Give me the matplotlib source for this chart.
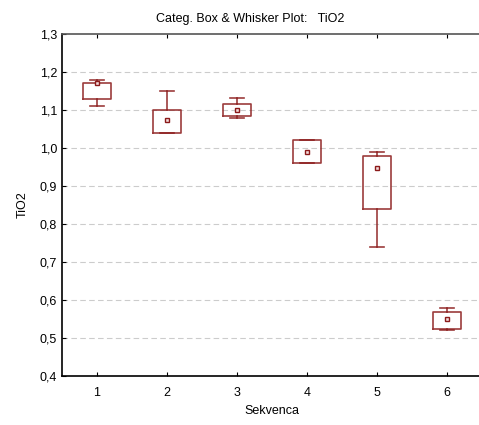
import matplotlib
matplotlib.use("Agg")
import matplotlib.pyplot as plt
from matplotlib.ticker import FuncFormatter

plt.rcParams['font.family'] = ['Liberation Sans', 'DejaVu Sans']

# Sekvenca categories and box statistics
categories = ['1', '2', '3', '4', '5', '6']
whisk_low = [1.11, 1.04, 1.08, 0.96, 0.74, 0.52]
box_low = [1.13, 1.04, 1.083, 0.96, 0.84, 0.524]
point = [1.172, 1.073, 1.10, 0.99, 0.947, 0.549]
box_high = [1.17, 1.10, 1.115, 1.02, 0.98, 0.569]
whisk_high = [1.18, 1.15, 1.131, 1.02, 0.99, 0.58]
y_ticks = [0.4, 0.5, 0.6, 0.7, 0.8, 0.9, 1.0, 1.1, 1.2, 1.3]

red = '#8b1a1a'

fig = plt.figure(figsize=(4.79, 4.25), dpi=100)
# right edge of the plot sits just past the picture, like the original
ax = fig.add_axes([62 / 479, 49 / 425, 420 / 479, 342 / 425])

stats = []
for i, c in enumerate(categories):
    stats.append({'label': c, 'whislo': whisk_low[i], 'q1': box_low[i], 'med': point[i],
                  'q3': box_high[i], 'whishi': whisk_high[i], 'mean': point[i], 'fliers': []})

pos = list(range(1, len(categories) + 1))
ax.bxp(stats, positions=pos, widths=0.41, capwidths=0.21, showmeans=True,
       boxprops=dict(color=red, linewidth=1.2, alpha=0.85),
       whiskerprops=dict(color=red, linewidth=1.2, alpha=0.85),
       capprops=dict(color=red, linewidth=1.2, alpha=0.85),
       medianprops=dict(linewidth=0),
       meanprops=dict(marker='s', markersize=3, markeredgecolor=red,
                      markerfacecolor='#f4dcdc', markeredgewidth=1))

ax.set_xlim(0.5, 6.5)
ax.set_ylim(0.4, 1.3)
ax.set_yticks(y_ticks)
ax.yaxis.set_major_formatter(FuncFormatter(lambda v, p: f"{v:.1f}".replace('.', ',')))
ax.set_xticks(pos)
ax.set_xticklabels(categories)

for v in y_ticks[1:-1]:
    ax.axhline(v, color='#cccccc', linewidth=0.8, linestyle=(0, (5, 3)), zorder=0)

ax.tick_params(direction='in', length=3, labelsize=9, top=True, width=0.8)
ax.tick_params(axis='x', pad=8)
ax.spines['right'].set_visible(False)
for s in ['left', 'bottom', 'top']:
    ax.spines[s].set_linewidth(1.2)
ax.spines['top'].set_color('#555555')

ax.set_xlabel('Sekvenca', fontsize=9, labelpad=4)
ax.set_ylabel('TiO2', fontsize=9, labelpad=8)
fig.text(250 / 479, 1 - 19 / 425, 'Categ. Box & Whisker Plot:   TiO2', fontsize=9,
         ha='center', va='center')

fig.savefig('out.png', dpi=100)
